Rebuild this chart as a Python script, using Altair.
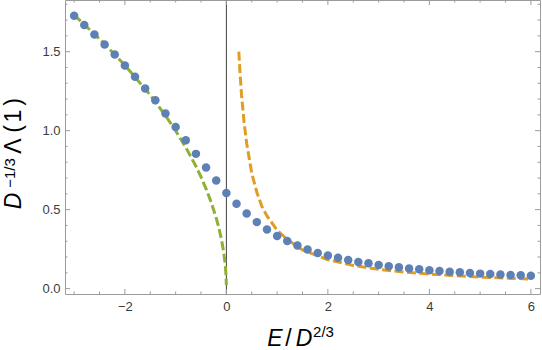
import altair as alt
import pandas as pd

# Scaled eigenvalue D^{-1/3} Λ(1) sampled against E/D^{2/3}
energy = [-3.0, -2.8, -2.6, -2.4, -2.2, -2.0, -1.8, -1.6, -1.4, -1.2,
          -1.0, -0.8, -0.6, -0.4, -0.2, 0.0, 0.2, 0.4, 0.6, 0.8,
          1.0, 1.2, 1.4, 1.6, 1.8, 2.0, 2.2, 2.4, 2.6, 2.8,
          3.0, 3.2, 3.4, 3.6, 3.8, 4.0, 4.2, 4.4, 4.6, 4.8,
          5.0, 5.2, 5.4, 5.6, 5.8, 6.0]
lam = [1.728, 1.669, 1.608, 1.545, 1.482, 1.413, 1.341, 1.267, 1.192, 1.109,
       1.023, 0.939, 0.853, 0.766, 0.684, 0.606, 0.538, 0.476, 0.421, 0.375,
       0.333, 0.301, 0.273, 0.248, 0.226, 0.209, 0.195, 0.182, 0.169, 0.160,
       0.150, 0.141, 0.135, 0.128, 0.122, 0.117, 0.112, 0.107, 0.103, 0.099,
       0.095, 0.092, 0.089, 0.086, 0.084, 0.082]

# Asymptote for negative E
neg_e = [-3.0, -2.5, -2.0, -1.5, -1.2, -1.0, -0.8, -0.6, -0.5, -0.4,
         -0.3, -0.2, -0.15, -0.1, -0.06, -0.03, -0.015, -0.005, -0.0005]
neg_l = [1.732, 1.581, 1.414, 1.225, 1.095, 1.0, 0.894, 0.775, 0.707, 0.632,
         0.548, 0.447, 0.387, 0.316, 0.245, 0.173, 0.122, 0.071, 0.022]

# Asymptote for positive E
pos_e = [0.245, 0.27, 0.3, 0.35, 0.4, 0.5, 0.6, 0.7, 0.8, 1.0, 1.2, 1.5,
         2.0, 2.5, 3.0, 3.5, 4.0, 4.5, 5.0, 5.5, 6.0]
pos_l = [1.5, 1.36, 1.22, 1.05, 0.92, 0.73, 0.61, 0.52, 0.46, 0.37, 0.31, 0.245,
         0.183, 0.147, 0.122, 0.105, 0.092, 0.082, 0.073, 0.067, 0.061]

x_major = [-2, 0, 2, 4, 6]
x_minor = [-3, -2.5, -1.5, -1, -0.5, 0.5, 1, 1.5, 2.5, 3, 3.5, 4.5, 5, 5.5]
y_major = [0.0, 0.5, 1.0, 1.5]
y_minor = [0.1, 0.2, 0.3, 0.4, 0.6, 0.7, 0.8, 0.9, 1.1, 1.2, 1.3, 1.4,
           1.6, 1.7, 1.8]

W, H = 475, 294
LEFT = 65
FRAME = "#9b9b9b"
FONT = "Liberation Sans"

xs = alt.Scale(domain=[-3.18, 6.18], nice=False, zero=False)
ys = alt.Scale(domain=[-0.034, 1.827], nice=False, zero=False)

pts = pd.DataFrame({"E": energy, "L": lam})
neg = pd.DataFrame({"E": neg_e, "L": neg_l})
pos = pd.DataFrame({"E": pos_e, "L": pos_l})
one = pd.DataFrame({"k": [0]})

x_axis = alt.Axis(values=x_major, format=".0f", title=None, grid=False,
                  domain=False, ticks=False, tickSize=0, labelPadding=6,
                  labelFont=FONT, labelFontSize=13, labelColor="#3c3c3c")
y_axis = alt.Axis(values=y_major, format=".1f", title=None, grid=False,
                  domain=False, ticks=False, tickSize=0, labelPadding=5,
                  labelFont=FONT, labelFontSize=13, labelColor="#3c3c3c")


def X(field):
    return alt.X(field, scale=xs, axis=x_axis)


def Y(field):
    return alt.Y(field, scale=ys, axis=y_axis)


zero_line = alt.Chart(pd.DataFrame({"E": [0.0]})).mark_rule(
    color="#404040", strokeWidth=1
).encode(x=X("E:Q"))

dash = [9, 3.5]
neg_line = alt.Chart(neg).mark_line(
    color="#8FB031", strokeWidth=3, strokeDash=dash
).encode(x=X("E:Q"), y=Y("L:Q"))

pos_line = alt.Chart(pos).mark_line(
    color="#E19C24", strokeWidth=3, strokeDash=dash
).encode(x=X("E:Q"), y=Y("L:Q"))

dots = alt.Chart(pts).mark_circle(
    size=72, color="#5E81B5", opacity=1
).encode(x=X("E:Q"), y=Y("L:Q"))


def x_ticks(vals, length):
    df = pd.DataFrame({"v": vals})
    base = alt.Chart(df).mark_rule(color=FRAME, strokeWidth=1)
    bottom = base.encode(x=X("v:Q"), y=alt.value(H), y2=alt.value(H - length))
    top = base.encode(x=X("v:Q"), y=alt.value(0), y2=alt.value(length))
    return [bottom, top]


def y_ticks(vals, length):
    df = pd.DataFrame({"v": vals})
    base = alt.Chart(df).mark_rule(color=FRAME, strokeWidth=1)
    left = base.encode(y=Y("v:Q"), x=alt.value(0), x2=alt.value(length))
    right = base.encode(y=Y("v:Q"), x=alt.value(W), x2=alt.value(W - length))
    return [left, right]


def piece(text, x, y, size, italic=False, angle=0):
    return alt.Chart(one).mark_text(
        text=text, font=FONT, fontSize=size,
        fontStyle="italic" if italic else "normal",
        angle=angle, align="center", baseline="alphabetic", color="black"
    ).encode(x=alt.value(x - LEFT), y=alt.value(y))


# horizontal axis title: E/D^{2/3}
x_title = [
    piece("E", 275, 346, 23, italic=True),
    piece("/", 288.5, 346, 23),
    piece("D", 304, 346, 23, italic=True),
    piece("2/3", 323.5, 337, 15),
]

# vertical axis title: D^{-1/3} Λ(1)
y_title = [
    piece("D", 21, 201, 23, italic=True, angle=270),
    piece("\u22121/3", 14.5, 173, 15, angle=270),
    piece("\u039b", 21, 146, 23, angle=270),
    piece("(", 21, 129, 23, angle=270),
    piece("1", 21, 116, 23, angle=270),
    piece(")", 21, 102, 23, angle=270),
]

layers = ([zero_line, neg_line, pos_line, dots]
          + x_ticks(x_major, 5) + x_ticks(x_minor, 2.5)
          + y_ticks(y_major, 5) + y_ticks(y_minor, 2.5)
          + x_title + y_title)

chart = alt.layer(*layers).properties(
    width=W, height=H,
    autosize=alt.AutoSizeParams(type="none"),
    padding={"left": LEFT, "top": 0, "right": 542 - LEFT - W, "bottom": 350 - H},
    background="white",
).configure_view(stroke=FRAME, strokeWidth=1)

chart.save("out.html", embed_options={"renderer": "svg", "actions": False})
